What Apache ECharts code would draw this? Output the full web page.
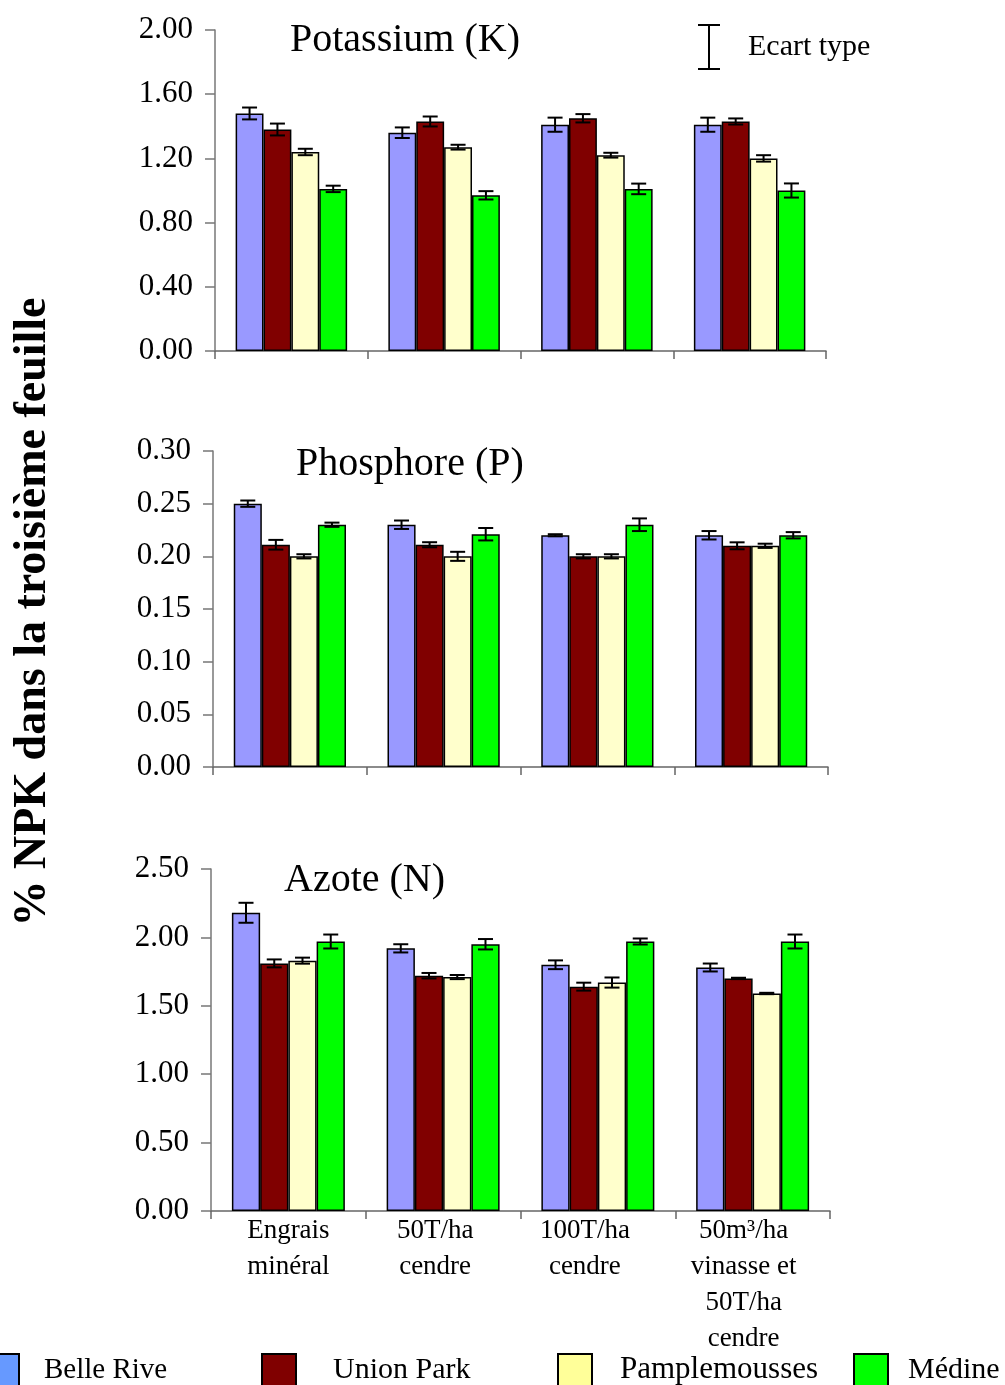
<!DOCTYPE html>
<html>
<head>
<meta charset="utf-8">
<script src="https://cdn.jsdelivr.net/npm/echarts@6/dist/echarts.min.js"></script>
<style>html,body{margin:0;padding:0;background:#fff;}#c{width:1005px;height:1385px;}</style>
</head>
<body>
<div id="c"></div>
<script>
const categories = ['Engrais\nminéral', '50T/ha\ncendre', '100T/ha\ncendre', '50m³/ha\nvinasse et\n50T/ha\ncendre'];
const seriesNames = ['Belle Rive', 'Union Park', 'Pamplemousses', 'Médine'];
const panelTitles = ['Potassium (K)', 'Phosphore (P)', 'Azote (N)'];

// rows: Belle Rive, Union Park, Pamplemousses, Médine ; columns: categories
const potassiumMeans = [
  [1.48, 1.36, 1.41, 1.41],
  [1.38, 1.43, 1.45, 1.43],
  [1.24, 1.27, 1.22, 1.20],
  [1.01, 0.97, 1.01, 1.00]
];
const potassiumSD = [
  [0.037, 0.033, 0.044, 0.044],
  [0.037, 0.031, 0.026, 0.019],
  [0.020, 0.015, 0.015, 0.020],
  [0.020, 0.026, 0.033, 0.044]
];
const phosphoreMeans = [
  [0.250, 0.230, 0.220, 0.220],
  [0.211, 0.211, 0.200, 0.210],
  [0.200, 0.200, 0.200, 0.210],
  [0.230, 0.221, 0.230, 0.220]
];
const phosphoreSD = [
  [0.003, 0.004, 0.001, 0.004],
  [0.0046, 0.0024, 0.002, 0.0033],
  [0.002, 0.0043, 0.002, 0.002],
  [0.002, 0.0059, 0.006, 0.003]
];
const azoteMeans = [
  [2.18, 1.92, 1.80, 1.78],
  [1.81, 1.72, 1.64, 1.70],
  [1.83, 1.71, 1.67, 1.59],
  [1.97, 1.95, 1.97, 1.97]
];
const azoteSD = [
  [0.073, 0.030, 0.032, 0.029],
  [0.029, 0.020, 0.029, 0.005],
  [0.022, 0.015, 0.037, 0.005],
  [0.051, 0.038, 0.022, 0.051]
];
const yMax = [2.0, 0.30, 2.5];
const yInterval = [0.4, 0.05, 0.5];

const means = [potassiumMeans, phosphoreMeans, azoteMeans];
const sds = [potassiumSD, phosphoreSD, azoteSD];

const FONT = '"Liberation Serif", "Times New Roman", serif';
const barColors = ['#9999ff', '#800000', '#ffffcc', '#00ff00'];
const legendColors = ['#6699ff', '#800000', '#ffff99', '#00ff00'];
const CAT_GAP = 0.27;
// leftward shift of each category label (px), as in the reference layout
const labelShift = [0, 8, 13, 9];

const grids = [
  {left: 215, top: 30, width: 611, height: 321},
  {left: 213, top: 451, width: 615, height: 316},
  {left: 211, top: 869, width: 619, height: 342}
];
const titleTops = [20, 444, 860];
const titleLefts = [290, 296, 284];

const xAxes = grids.map((g, p) => ({
  type: 'category', gridIndex: p,
  data: categories.map((c, i) => ({value: c, textStyle: {padding: [0, 2 * labelShift[i], 0, 0]}})),
  axisLine: {lineStyle: {color: '#666', width: 1.5}},
  axisTick: {show: true, length: 8, lineStyle: {color: '#666', width: 1.5}},
  axisLabel: {show: p === 2, interval: 0, margin: 2, fontFamily: FONT, fontSize: 27, lineHeight: 36, color: '#000'}
}));
const yAxes = grids.map((g, p) => ({
  type: 'value', gridIndex: p, min: 0, max: yMax[p], interval: yInterval[p],
  axisLine: {show: true, lineStyle: {color: '#777', width: 1.5}},
  axisTick: {show: true, length: 10, lineStyle: {color: '#777', width: 1.5}},
  splitLine: {show: false},
  axisLabel: {margin: 22, fontFamily: FONT, fontSize: 31, color: '#000', formatter: v => v.toFixed(2)}
}));

const series = [];
for (let p = 0; p < 3; p++) {
  for (let s = 0; s < 4; s++) {
    series.push({
      type: 'bar', name: seriesNames[s], xAxisIndex: p, yAxisIndex: p,
      data: means[p][s], barGap: '0%', barCategoryGap: (CAT_GAP * 100) + '%',
      itemStyle: {color: barColors[s], borderColor: '#000', borderWidth: 1.5},
      emphasis: {disabled: true}
    });
  }
  const errData = [];
  for (let s = 0; s < 4; s++) {
    for (let c = 0; c < categories.length; c++) {
      errData.push([c, s, means[p][s][c], sds[p][s][c]]);
    }
  }
  series.push({
    type: 'custom', name: 'err' + p, xAxisIndex: p, yAxisIndex: p, z: 10,
    data: errData, encode: {x: 0, y: 2},
    renderItem: function (params, api) {
      const c = api.value(0), s = api.value(1), m = api.value(2), e = api.value(3);
      const band = api.size([1, 0])[0];
      const bw = band * (1 - CAT_GAP) / 4;
      const cx = api.coord([c, 0])[0] - 2 * bw + (s + 0.5) * bw;
      const yT = api.coord([c, m + e])[1];
      const yB = api.coord([c, m - e])[1];
      const hw = 7.5;
      const st = {stroke: '#000', lineWidth: 2};
      return {type: 'group', children: [
        {type: 'line', shape: {x1: cx, y1: yT, x2: cx, y2: yB}, style: st},
        {type: 'line', shape: {x1: cx - hw, y1: yT, x2: cx + hw, y2: yT}, style: st},
        {type: 'line', shape: {x1: cx - hw, y1: yB, x2: cx + hw, y2: yB}, style: st}
      ]};
    }
  });
}

const legendLefts = [-16, 261, 557, 853];
const legendGaps = [25, 37, 28, 20];
const legendFont = [29, 30, 31, 30];
const legends = seriesNames.map((n, i) => ({
  data: [{name: n, itemStyle: {color: legendColors[i]}}],
  left: legendLefts[i], top: 1353, padding: 0,
  itemWidth: 34, itemHeight: 32, icon: 'rect', selectedMode: false,
  itemStyle: {borderColor: '#000', borderWidth: 2},
  textStyle: {fontFamily: FONT, fontSize: legendFont[i], color: '#000', padding: [0, 0, 0, legendGaps[i] - 5]}
}));

const titles = panelTitles.map((t, i) => ({
  text: t, left: titleLefts[i], top: titleTops[i], padding: 0,
  textStyle: {fontFamily: FONT, fontSize: 40, fontWeight: 'normal', color: '#000'}
}));

const chart = echarts.init(document.getElementById('c'), null, {renderer: 'canvas'});
chart.setOption({
  animation: false,
  backgroundColor: '#fff',
  title: titles,
  legend: legends,
  grid: grids,
  xAxis: xAxes,
  yAxis: yAxes,
  series: series,
  graphic: [
    {type: 'text', x: 33, y: 612, rotation: Math.PI / 2,
     style: {text: '% NPK dans la troisième feuille', font: 'bold 46px ' + FONT, fill: '#000', textAlign: 'center', textVerticalAlign: 'middle'}},
    {type: 'line', shape: {x1: 709, y1: 25, x2: 709, y2: 69}, style: {stroke: '#000', lineWidth: 2}},
    {type: 'line', shape: {x1: 698, y1: 25, x2: 720, y2: 25}, style: {stroke: '#000', lineWidth: 2}},
    {type: 'line', shape: {x1: 698, y1: 69, x2: 720, y2: 69}, style: {stroke: '#000', lineWidth: 2}},
    {type: 'text', x: 748, y: 47,
     style: {text: 'Ecart type', font: '30px ' + FONT, fill: '#000', textAlign: 'left', textVerticalAlign: 'middle'}}
  ]
});
</script>
</body>
</html>
